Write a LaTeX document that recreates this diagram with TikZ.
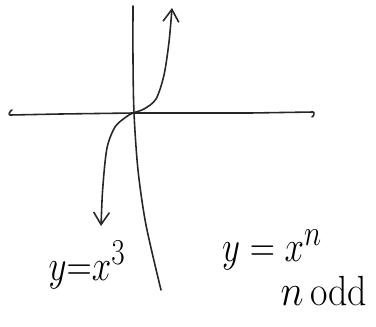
\documentclass[tikz,border=0pt]{standalone}
\usepackage{amsmath,amssymb}
\usepackage{xcolor}
\usetikzlibrary{arrows.meta,positioning}

\begin{document}
\begin{tikzpicture}[
    x=0.02cm, y=-0.02cm,
    pen/.style={line width=0.9pt, color=black!85, line cap=round, line join=round},
    curve/.style={pen, {Straight Barb[length=7pt,width=9pt]}-{Straight Barb[length=7pt,width=9pt]}},
    hand/.style={font=\fontsize{28}{30}\selectfont, inner sep=0pt, xscale=0.8},
    handsmall/.style={font=\fontsize{24}{26}\selectfont, inner sep=0pt, xscale=0.9}
]
    \useasboundingbox (0,0) rectangle (376,326);

    % Axes (drawn by hand, slightly bent)
    \draw[pen] (12,110) to[out=200,in=180] (10,115) -- (60,114) -- (133,113) -- (250,113) -- (313,112) to[out=0,in=20] (312,117);
    \draw[pen] plot[smooth] coordinates {(133,6) (133,60) (134,113) (138,170) (146,225) (161,290)};

    % y = x^3
    \draw[curve] plot[smooth] coordinates {(101,226) (103,185) (107,148) (115,127) (126,117) (133,113) (144,109) (156,99) (164,75) (169,42) (172,8)};

    % Labels
    \node[hand] (cube) at (87,265) {$y{=}x^{3}$};
    \node[hand] (power) at (272,250) {$y=x^{n}$};
    \node[handsmall] (odd) at (324,291) {$n$\,odd};
\end{tikzpicture}
\end{document}
